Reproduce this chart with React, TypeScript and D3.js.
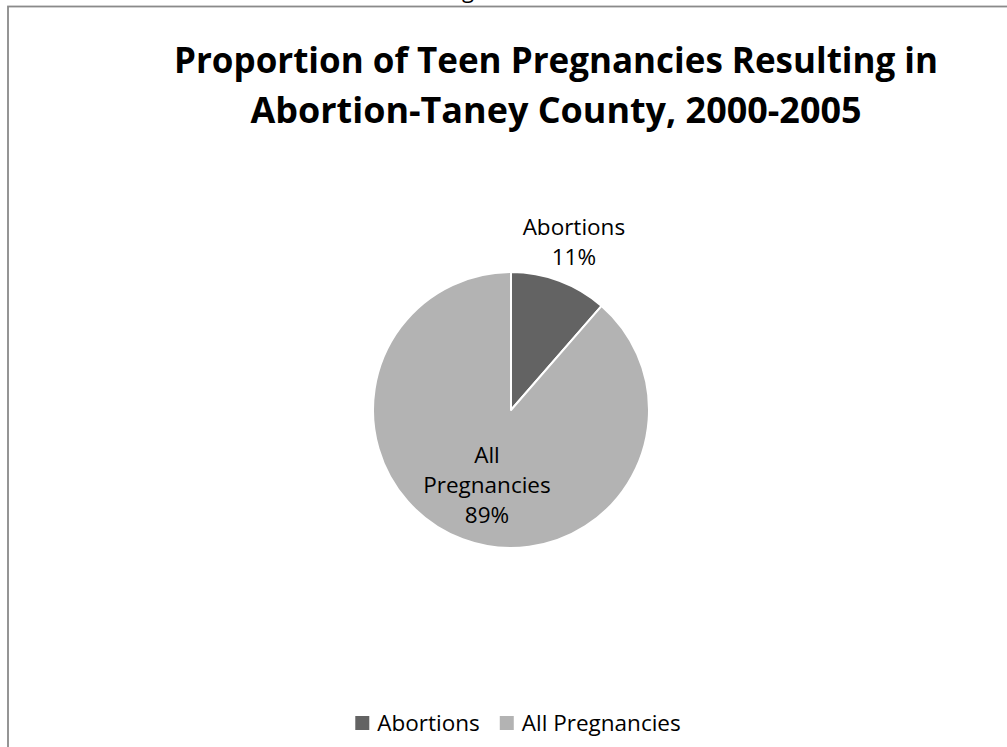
import { select, pie, arc, scaleOrdinal, format } from "d3";
import { useEffect, useRef } from "react";

const categories = ["Abortions", "All Pregnancies"];
const shares = [11.4, 88.6];
const colors = ["#636363", "#b3b3b3"];
const titleLines = [
  "Proportion of Teen Pregnancies Resulting in",
  "Abortion-Taney County, 2000-2005",
];

const FONT = "'Open Sans', 'DejaVu Sans', sans-serif";

export default function App() {
  const svgRef = useRef<SVGSVGElement | null>(null);

  useEffect(() => {
    if (!svgRef.current) return;
    const svg = select(svgRef.current);
    svg.selectAll("*").remove();

    const width = 1007;
    const height = 747;

    svg.append("rect").attr("width", width).attr("height", height).attr("fill", "white");

    // leftover of the heading above the chart, clipped by the page top
    svg
      .append("text")
      .attr("x", 462)
      .attr("y", -2)
      .attr("font-family", FONT)
      .attr("font-size", 22)
      .attr("fill", "#000")
      .text("g");

    // chart frame (runs off the right and bottom edges)
    svg
      .append("rect")
      .attr("x", 8)
      .attr("y", 6.5)
      .attr("width", width + 20)
      .attr("height", height + 20)
      .attr("fill", "none")
      .attr("stroke", "#8a8a8a")
      .attr("stroke-width", 1.8);

    // title
    const title = svg
      .append("g")
      .attr("font-family", FONT)
      .attr("font-weight", 700)
      .attr("font-size", 36)
      .attr("fill", "#000")
      .attr("text-anchor", "middle");
    const titleWidths = [764, 611];
    titleLines.forEach((t, i) => {
      title
        .append("text")
        .attr("x", 556)
        .attr("y", 73 + i * 50)
        .attr("textLength", titleWidths[i])
        .attr("lengthAdjust", "spacingAndGlyphs")
        .text(t);
    });

    const cx = 511;
    const cy = 410;
    const radius = 138;

    const color = scaleOrdinal<string, string>().domain(categories).range(colors);
    const pct = format(".0%");
    const total = shares.reduce((a, b) => a + b, 0);

    const data = categories.map((c, i) => ({ name: c, value: shares[i] }));
    const slices = pie<{ name: string; value: number }>()
      .value((d) => d.value)
      .sort(null)(data);

    const slicePath = arc<any>().innerRadius(0).outerRadius(radius);
    const outerLabel = arc<any>().innerRadius(radius * 1.3).outerRadius(radius * 1.3);
    const innerLabel = arc<any>().innerRadius(radius * 0.58).outerRadius(radius * 0.58);

    const chart = svg.append("g").attr("transform", `translate(${cx},${cy})`);

    chart
      .selectAll("path.slice")
      .data(slices)
      .enter()
      .append("path")
      .attr("class", "slice")
      .attr("d", slicePath)
      .attr("fill", (d) => color(d.data.name))
      .attr("stroke", "white")
      .attr("stroke-width", 2)
      .attr("stroke-linejoin", "round");

    // data labels: small slice outside, large slice inside
    slices.forEach((s, i) => {
      const lines =
        i === 0
          ? [s.data.name, pct(s.data.value / total)]
          : ["All", "Pregnancies", pct(s.data.value / total)];
      const [lx, ly] = i === 0 ? outerLabel.centroid(s) : innerLabel.centroid(s);
      const lineH = 30;
      const startY = ly - ((lines.length - 1) * lineH) / 2;
      const label = chart
        .append("text")
        .attr("font-family", FONT)
        .attr("font-size", 22.5)
        .attr("fill", "#000")
        .attr("text-anchor", "middle");
      lines.forEach((ln, j) => {
        label
          .append("tspan")
          .attr("x", lx + (i === 1 ? 4 : 0))
          .attr("y", startY + j * lineH)
          .attr("dy", "0.35em")
          .text(ln);
      });
    });

    // legend, centred under the pie
    const legend = svg.append("g").attr("font-family", FONT).attr("font-size", 22.5);
    const items = legend
      .selectAll("g.item")
      .data(categories)
      .enter()
      .append("g")
      .attr("class", "item");
    items
      .append("rect")
      .attr("width", 14)
      .attr("height", 14)
      .attr("y", -7)
      .attr("fill", (d) => color(d));
    items
      .append("text")
      .attr("x", 22)
      .attr("dy", "0.35em")
      .attr("fill", "#000")
      .text((d) => d);

    const gap = 20;
    const widths: number[] = [];
    items.each(function () {
      const t = select(this).select("text").node() as SVGTextElement;
      widths.push(22 + t.getComputedTextLength());
    });
    const totalW = widths.reduce((a, b) => a + b, 0) + gap * (widths.length - 1);
    let x = 518 - totalW / 2;
    items.attr("transform", (_d, i) => {
      const tx = x;
      x += widths[i] + gap;
      return `translate(${tx},723)`;
    });
  }, []);

  return (
    <svg
      ref={svgRef}
      width={1007}
      height={747}
      style={{ position: "absolute", left: 0, top: 0, display: "block" }}
    ></svg>
  );
}
